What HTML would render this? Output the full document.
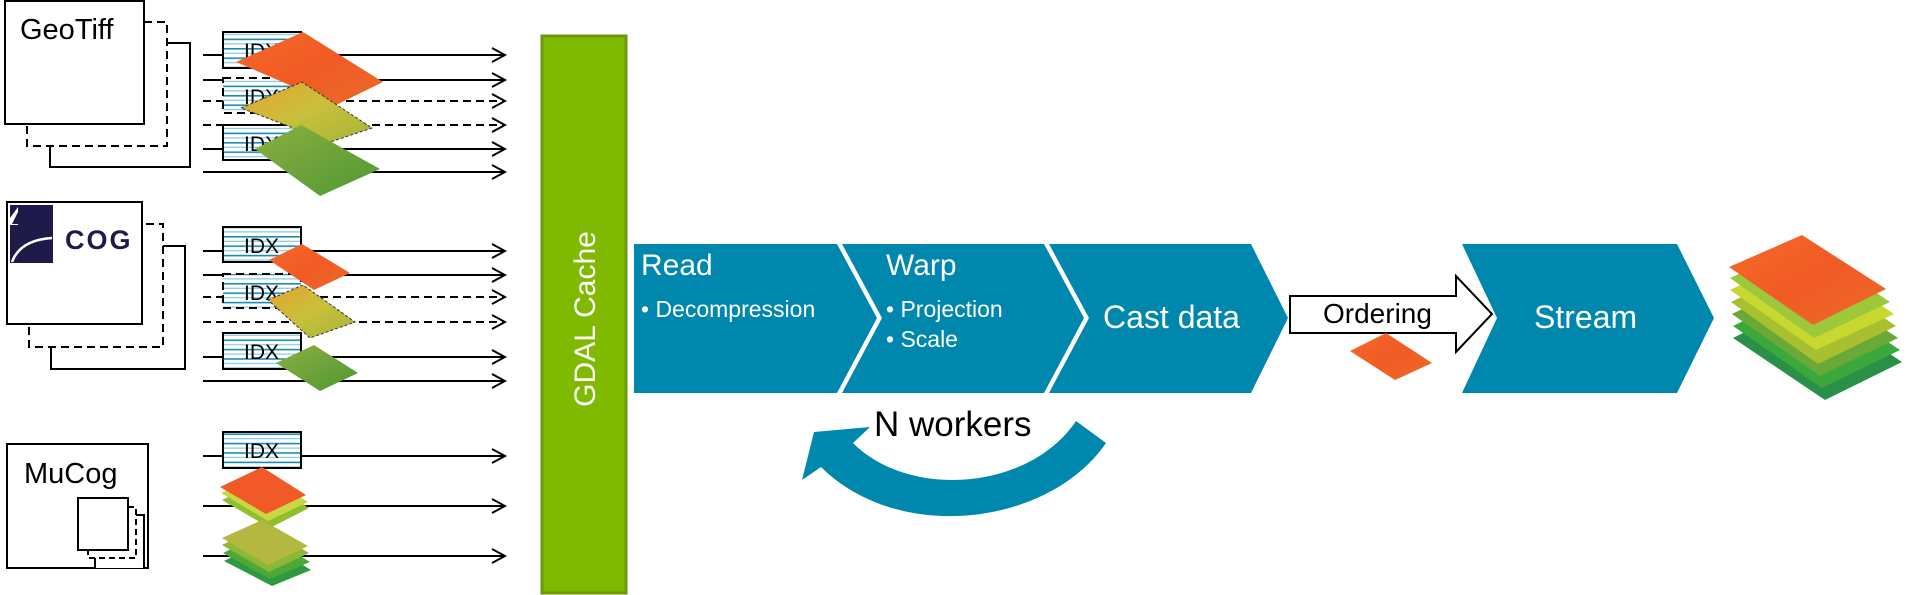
<!DOCTYPE html>
<html><head><meta charset="utf-8"><style>
html,body{margin:0;padding:0;background:#fff;}
svg{display:block;}
text{font-family:"Liberation Sans",Arial,sans-serif;}
</style></head><body>
<svg width="1923" height="595" viewBox="0 0 1923 595" xmlns="http://www.w3.org/2000/svg">
<defs>
<pattern id="stripes" width="10" height="9.4" patternUnits="userSpaceOnUse">
<rect width="10" height="9.4" fill="#fff"/>
<rect y="1" width="10" height="1.6" fill="#1a8ab3"/>
<rect y="5.7" width="10" height="1.2" fill="#8cc6dc"/>
</pattern>
<linearGradient id="gRed" x1="0" y1="0" x2="1" y2="1"><stop offset="0" stop-color="#f56a2a"/><stop offset="0.5" stop-color="#f15a24"/><stop offset="1" stop-color="#ea6b2a"/></linearGradient>
<linearGradient id="gYel" x1="0" y1="0" x2="1" y2="1"><stop offset="0" stop-color="#e9a030"/><stop offset="0.5" stop-color="#c8c03a"/><stop offset="1" stop-color="#a8b43a"/></linearGradient>
<linearGradient id="gGrn" x1="0" y1="0" x2="1" y2="1"><stop offset="0" stop-color="#8cb040"/><stop offset="0.5" stop-color="#6ea23a"/><stop offset="1" stop-color="#4f9a35"/></linearGradient>
<marker id="ah" markerWidth="16" markerHeight="16" refX="14" refY="8" orient="auto" markerUnits="userSpaceOnUse">
<path d="M1,1 L14,8 L1,15" fill="none" stroke="#000" stroke-width="2"/>
</marker>
</defs>

<!-- GeoTiff boxes -->
<rect x="50" y="43" width="140" height="124" fill="#fff" stroke="#000" stroke-width="2"/>
<rect x="27" y="22" width="140" height="124" fill="#fff" stroke="#000" stroke-width="2" stroke-dasharray="8,5"/>
<rect x="5" y="1" width="139" height="123" fill="#fff" stroke="#000" stroke-width="2"/>
<text x="20" y="39" font-size="29">GeoTiff</text>

<!-- COG boxes -->
<rect x="51" y="246" width="134" height="123" fill="#fff" stroke="#000" stroke-width="2"/>
<rect x="29" y="224" width="134" height="123" fill="#fff" stroke="#000" stroke-width="2" stroke-dasharray="8,5"/>
<rect x="7" y="202" width="135" height="122" fill="#fff" stroke="#000" stroke-width="2"/>
<rect x="10" y="205" width="43" height="58" fill="#1e1a4a"/>
<polygon points="10,225 10,218 18,207 18,225" fill="#fff"/>
<polygon points="12,224 18,212 18,224" fill="#1e1a4a"/>
<path d="M12,262 Q20,240 52,238" fill="none" stroke="#fff" stroke-width="2.5"/>
<text x="65" y="249" font-size="27" font-weight="bold" fill="#1e1a4a" font-family="Liberation Mono, monospace" letter-spacing="2">COG</text>

<!-- MuCog -->
<rect x="7" y="444" width="141" height="124" fill="#fff" stroke="#000" stroke-width="2"/>
<text x="24" y="483" font-size="29">MuCog</text>
<polyline points="95,568 95,515 144,515 144,568" fill="#fff" stroke="#000" stroke-width="2"/>
<rect x="88" y="507" width="48" height="51" fill="#fff" stroke="#000" stroke-width="2" stroke-dasharray="6,4"/>
<rect x="78" y="498" width="50" height="52" fill="#fff" stroke="#000" stroke-width="2"/>

<!-- arrows -->
<g stroke="#000" stroke-width="2" fill="none" marker-end="url(#ah)">
<line x1="203" y1="55" x2="505" y2="55"/>
<line x1="203" y1="80" x2="505" y2="80"/>
<line x1="203" y1="101" x2="505" y2="101" stroke-dasharray="8,5"/>
<line x1="203" y1="125" x2="505" y2="125" stroke-dasharray="8,5"/>
<line x1="203" y1="149" x2="505" y2="149"/>
<line x1="203" y1="172" x2="505" y2="172"/>
<line x1="203" y1="251" x2="505" y2="251"/>
<line x1="203" y1="275" x2="505" y2="275"/>
<line x1="203" y1="297" x2="505" y2="297" stroke-dasharray="8,5"/>
<line x1="203" y1="322" x2="505" y2="322" stroke-dasharray="8,5"/>
<line x1="203" y1="357" x2="505" y2="357"/>
<line x1="203" y1="381" x2="505" y2="381"/>
<line x1="203" y1="456" x2="505" y2="456"/>
<line x1="203" y1="506" x2="505" y2="506"/>
<line x1="203" y1="556" x2="505" y2="556"/>
</g>

<!-- IDX boxes -->
<g font-size="21">
<rect x="223" y="32" width="78" height="36" fill="url(#stripes)" stroke="#000" stroke-width="2"/><text x="244" y="58">IDX</text>
<rect x="223" y="78" width="78" height="35" fill="url(#stripes)" stroke="#000" stroke-width="2" stroke-dasharray="8,5"/><text x="244" y="104">IDX</text>
<rect x="223" y="125" width="78" height="35" fill="url(#stripes)" stroke="#000" stroke-width="2"/><text x="244" y="151">IDX</text>
<rect x="223" y="227" width="78" height="35" fill="url(#stripes)" stroke="#000" stroke-width="2"/><text x="244" y="253">IDX</text>
<rect x="223" y="274" width="78" height="34" fill="url(#stripes)" stroke="#000" stroke-width="2" stroke-dasharray="8,5"/><text x="244" y="300">IDX</text>
<rect x="223" y="333" width="78" height="36" fill="url(#stripes)" stroke="#000" stroke-width="2"/><text x="244" y="359">IDX</text>
<rect x="223" y="432" width="78" height="36" fill="url(#stripes)" stroke="#000" stroke-width="2"/><text x="244" y="458">IDX</text>
</g>

<!-- tiles -->
<polygon points="236,62 303,32 383,82 336,105" fill="url(#gRed)"/>
<polygon points="241,108 302,82 372,128 330,142" fill="url(#gYel)" stroke="#333" stroke-width="1" stroke-dasharray="3,2"/>
<polygon points="255,149 301,125 380,169 320,196" fill="url(#gGrn)"/>
<polygon points="269,260 302,244 350,273 314,290" fill="url(#gRed)"/>
<polygon points="268,300 303,285 355,322 310,338" fill="url(#gYel)" stroke="#333" stroke-width="1" stroke-dasharray="3,2"/>
<polygon points="276,363 314,345 358,373 320,391" fill="url(#gGrn)"/>

<!-- MuCog stacks -->
<g>
<polygon points="222,500 264,480 309,508 270,528" fill="#8fbf30"/>
<polygon points="221,493 263,474 308,502 268,521" fill="#c8d840"/>
<polygon points="220,487 262,467 306,495 266,514" fill="#f05a28"/>
<polygon points="224,561 264,541 311,570 272,586" fill="#2e9a40"/>
<polygon points="223,553 263,533 310,562 270,579" fill="#4ea838"/>
<polygon points="222,545 262,525 309,553 269,572" fill="#8cb838"/>
<polygon points="222,538 262,520 308,546 268,565" fill="#b4b840"/>
</g>

<!-- GDAL Cache -->
<rect x="542" y="36" width="84" height="557" fill="#7fba00" stroke="#6a9a0a" stroke-width="3"/>
<text x="0" y="0" font-size="30" fill="#fff" text-anchor="middle" transform="translate(595,319) rotate(-90)">GDAL Cache</text>

<!-- chevrons -->
<g fill="#0087ad">
<polygon points="634,244 837,244 877,318 837,393 634,393"/>
<polygon points="842,244 1044,244 1084,318 1044,393 842,393 882,318"/>
<polygon points="1049,244 1251,244 1288,318 1251,393 1049,393 1089,318"/>
<polygon points="1462,244 1677,244 1714,318 1677,393 1462,393 1497,318"/>
</g>
<g fill="#fff">
<text x="641" y="275" font-size="30">Read</text>
<text x="641" y="317" font-size="23">• Decompression</text>
<text x="886" y="275" font-size="30">Warp</text>
<text x="886" y="317" font-size="23">• Projection</text>
<text x="886" y="347" font-size="23">• Scale</text>
<text x="1103" y="328" font-size="32">Cast data</text>
<text x="1534" y="328" font-size="32">Stream</text>
</g>

<!-- Ordering arrow -->
<polygon points="1290,296 1456,296 1456,276 1492,314 1456,352 1456,333 1290,333" fill="#fff" stroke="#000" stroke-width="2"/>
<text x="1323" y="323" font-size="28">Ordering</text>
<polygon points="1350,351 1386,333 1432,363 1395,380" fill="url(#gRed)"/>

<!-- N workers -->
<path d="M1106,443 C1050,525 900,545 821,467 L802,480 L814,432 L870,427 L853,443 C910,500 1030,490 1076,421 Z" fill="#0087ad"/>
<text x="874" y="436" font-size="35">N workers</text>

<!-- output stack -->
<g>
<polygon points="1733,338 1810,300 1902,362 1825,400" fill="#2a8f48"/>
<polygon points="1733,326 1808,289 1900,350 1822,388" fill="#3aa83a"/>
<polygon points="1732,314 1807,277 1898,338 1820,376" fill="#6aa838"/>
<polygon points="1731,302 1806,265 1896,326 1818,364" fill="#a8c030"/>
<polygon points="1730,290 1805,254 1894,314 1816,350" fill="#c8d830"/>
<polygon points="1730,278 1804,244 1890,302 1814,338" fill="#9cc83a"/>
<polygon points="1729,267 1802,235 1886,289 1813,325" fill="url(#gRed)"/>
</g>
</svg>
</body></html>
